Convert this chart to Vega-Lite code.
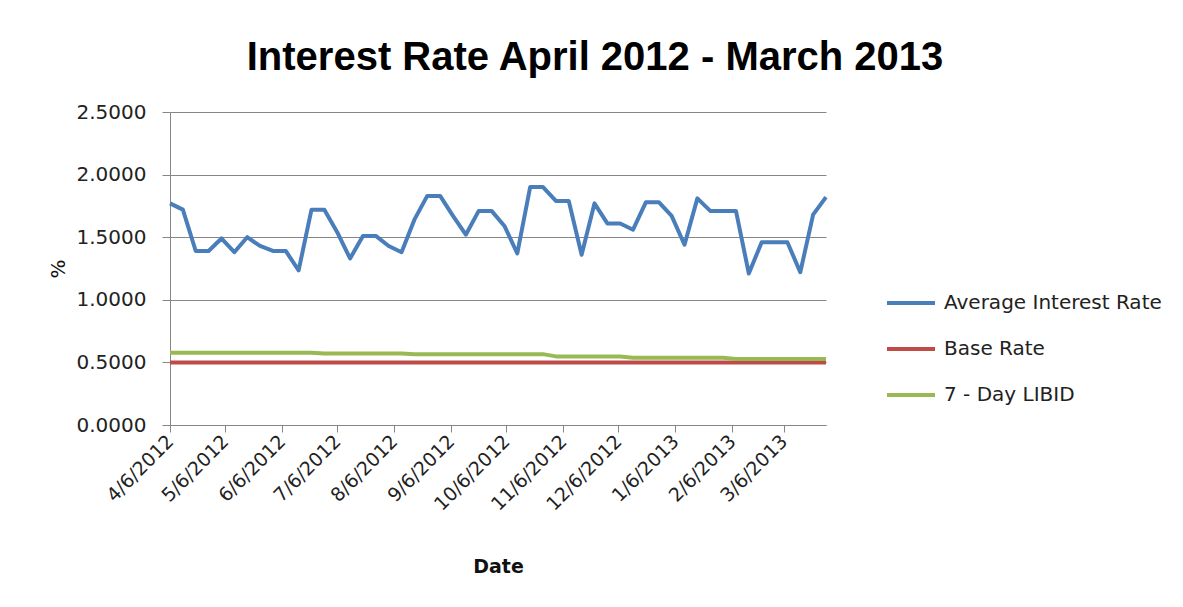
{
  "$schema": "https://vega.github.io/schema/vega-lite/v6.json",
  "width": 656,
  "height": 313,
  "autosize": "none",
  "padding": {"left": 170, "top": 112, "right": 357, "bottom": 182},
  "background": "white",
  "title": {
    "text": "Interest Rate April 2012 - March 2013",
    "font": "Liberation Sans Narrow, Liberation Sans",
    "fontSize": 40,
    "fontWeight": "bold",
    "color": "#000000",
    "anchor": "middle",
    "dx": 97,
    "offset": 24
  },
  "data": {
    "values": [
      {"date": "2012/04/06", "Average Interest Rate": 1.77, "Base Rate": 0.5, "7 - Day LIBID": 0.578},
      {"date": "2012/04/13", "Average Interest Rate": 1.72, "Base Rate": 0.5, "7 - Day LIBID": 0.578},
      {"date": "2012/04/20", "Average Interest Rate": 1.39, "Base Rate": 0.5, "7 - Day LIBID": 0.578},
      {"date": "2012/04/27", "Average Interest Rate": 1.39, "Base Rate": 0.5, "7 - Day LIBID": 0.578},
      {"date": "2012/05/04", "Average Interest Rate": 1.49, "Base Rate": 0.5, "7 - Day LIBID": 0.578},
      {"date": "2012/05/11", "Average Interest Rate": 1.38, "Base Rate": 0.5, "7 - Day LIBID": 0.578},
      {"date": "2012/05/18", "Average Interest Rate": 1.50, "Base Rate": 0.5, "7 - Day LIBID": 0.578},
      {"date": "2012/05/25", "Average Interest Rate": 1.43, "Base Rate": 0.5, "7 - Day LIBID": 0.578},
      {"date": "2012/06/01", "Average Interest Rate": 1.39, "Base Rate": 0.5, "7 - Day LIBID": 0.578},
      {"date": "2012/06/08", "Average Interest Rate": 1.39, "Base Rate": 0.5, "7 - Day LIBID": 0.578},
      {"date": "2012/06/15", "Average Interest Rate": 1.235, "Base Rate": 0.5, "7 - Day LIBID": 0.578},
      {"date": "2012/06/22", "Average Interest Rate": 1.72, "Base Rate": 0.5, "7 - Day LIBID": 0.578},
      {"date": "2012/06/29", "Average Interest Rate": 1.72, "Base Rate": 0.5, "7 - Day LIBID": 0.572},
      {"date": "2012/07/06", "Average Interest Rate": 1.54, "Base Rate": 0.5, "7 - Day LIBID": 0.572},
      {"date": "2012/07/13", "Average Interest Rate": 1.33, "Base Rate": 0.5, "7 - Day LIBID": 0.572},
      {"date": "2012/07/20", "Average Interest Rate": 1.51, "Base Rate": 0.5, "7 - Day LIBID": 0.572},
      {"date": "2012/07/27", "Average Interest Rate": 1.51, "Base Rate": 0.5, "7 - Day LIBID": 0.572},
      {"date": "2012/08/03", "Average Interest Rate": 1.43, "Base Rate": 0.5, "7 - Day LIBID": 0.572},
      {"date": "2012/08/10", "Average Interest Rate": 1.38, "Base Rate": 0.5, "7 - Day LIBID": 0.572},
      {"date": "2012/08/17", "Average Interest Rate": 1.64, "Base Rate": 0.5, "7 - Day LIBID": 0.566},
      {"date": "2012/08/24", "Average Interest Rate": 1.83, "Base Rate": 0.5, "7 - Day LIBID": 0.566},
      {"date": "2012/08/31", "Average Interest Rate": 1.83, "Base Rate": 0.5, "7 - Day LIBID": 0.566},
      {"date": "2012/09/07", "Average Interest Rate": 1.67, "Base Rate": 0.5, "7 - Day LIBID": 0.566},
      {"date": "2012/09/14", "Average Interest Rate": 1.52, "Base Rate": 0.5, "7 - Day LIBID": 0.566},
      {"date": "2012/09/21", "Average Interest Rate": 1.71, "Base Rate": 0.5, "7 - Day LIBID": 0.566},
      {"date": "2012/09/28", "Average Interest Rate": 1.71, "Base Rate": 0.5, "7 - Day LIBID": 0.566},
      {"date": "2012/10/05", "Average Interest Rate": 1.59, "Base Rate": 0.5, "7 - Day LIBID": 0.566},
      {"date": "2012/10/12", "Average Interest Rate": 1.37, "Base Rate": 0.5, "7 - Day LIBID": 0.566},
      {"date": "2012/10/19", "Average Interest Rate": 1.90, "Base Rate": 0.5, "7 - Day LIBID": 0.566},
      {"date": "2012/10/26", "Average Interest Rate": 1.90, "Base Rate": 0.5, "7 - Day LIBID": 0.566},
      {"date": "2012/11/02", "Average Interest Rate": 1.79, "Base Rate": 0.5, "7 - Day LIBID": 0.548},
      {"date": "2012/11/09", "Average Interest Rate": 1.79, "Base Rate": 0.5, "7 - Day LIBID": 0.548},
      {"date": "2012/11/16", "Average Interest Rate": 1.36, "Base Rate": 0.5, "7 - Day LIBID": 0.548},
      {"date": "2012/11/23", "Average Interest Rate": 1.77, "Base Rate": 0.5, "7 - Day LIBID": 0.548},
      {"date": "2012/11/30", "Average Interest Rate": 1.61, "Base Rate": 0.5, "7 - Day LIBID": 0.548},
      {"date": "2012/12/07", "Average Interest Rate": 1.61, "Base Rate": 0.5, "7 - Day LIBID": 0.548},
      {"date": "2012/12/14", "Average Interest Rate": 1.56, "Base Rate": 0.5, "7 - Day LIBID": 0.538},
      {"date": "2012/12/21", "Average Interest Rate": 1.78, "Base Rate": 0.5, "7 - Day LIBID": 0.538},
      {"date": "2012/12/28", "Average Interest Rate": 1.78, "Base Rate": 0.5, "7 - Day LIBID": 0.538},
      {"date": "2013/01/04", "Average Interest Rate": 1.67, "Base Rate": 0.5, "7 - Day LIBID": 0.538},
      {"date": "2013/01/11", "Average Interest Rate": 1.44, "Base Rate": 0.5, "7 - Day LIBID": 0.538},
      {"date": "2013/01/18", "Average Interest Rate": 1.81, "Base Rate": 0.5, "7 - Day LIBID": 0.538},
      {"date": "2013/01/25", "Average Interest Rate": 1.71, "Base Rate": 0.5, "7 - Day LIBID": 0.538},
      {"date": "2013/02/01", "Average Interest Rate": 1.71, "Base Rate": 0.5, "7 - Day LIBID": 0.538},
      {"date": "2013/02/08", "Average Interest Rate": 1.71, "Base Rate": 0.5, "7 - Day LIBID": 0.528},
      {"date": "2013/02/15", "Average Interest Rate": 1.21, "Base Rate": 0.5, "7 - Day LIBID": 0.528},
      {"date": "2013/02/22", "Average Interest Rate": 1.46, "Base Rate": 0.5, "7 - Day LIBID": 0.528},
      {"date": "2013/03/01", "Average Interest Rate": 1.46, "Base Rate": 0.5, "7 - Day LIBID": 0.528},
      {"date": "2013/03/08", "Average Interest Rate": 1.46, "Base Rate": 0.5, "7 - Day LIBID": 0.528},
      {"date": "2013/03/15", "Average Interest Rate": 1.22, "Base Rate": 0.5, "7 - Day LIBID": 0.528},
      {"date": "2013/03/22", "Average Interest Rate": 1.68, "Base Rate": 0.5, "7 - Day LIBID": 0.528},
      {"date": "2013/03/29", "Average Interest Rate": 1.82, "Base Rate": 0.5, "7 - Day LIBID": 0.528}
    ]
  },
  "transform": [
    {"fold": ["Average Interest Rate", "Base Rate", "7 - Day LIBID"], "as": ["series", "value"]}
  ],
  "mark": {"type": "line", "strokeWidth": 4, "strokeJoin": "round", "strokeCap": "butt"},
  "encoding": {
    "x": {
      "field": "date",
      "type": "temporal",
      "scale": {"domain": [{"year": 2012, "month": 4, "date": 6}, {"year": 2013, "month": 3, "date": 29}], "nice": false},
      "axis": {
        "title": "Date",
        "values": [
          {"year": 2012, "month": 4, "date": 6},
          {"year": 2012, "month": 5, "date": 6},
          {"year": 2012, "month": 6, "date": 6},
          {"year": 2012, "month": 7, "date": 6},
          {"year": 2012, "month": 8, "date": 6},
          {"year": 2012, "month": 9, "date": 6},
          {"year": 2012, "month": 10, "date": 6},
          {"year": 2012, "month": 11, "date": 6},
          {"year": 2012, "month": 12, "date": 6},
          {"year": 2013, "month": 1, "date": 6},
          {"year": 2013, "month": 2, "date": 6},
          {"year": 2013, "month": 3, "date": 6}
        ],
        "format": "%-m/%-d/%Y",
        "labelAngle": -45,
        "labelAlign": "right",
        "labelBaseline": "middle",
        "labelFont": "DejaVu Sans",
        "labelFontSize": 19,
        "labelColor": "#222222",
        "labelPadding": 6,
        "labelOverlap": false,
        "labelFlush": false,
        "tickSize": 7,
        "tickColor": "#868686",
        "domainColor": "#868686",
        "grid": false,
        "titleFont": "DejaVu Sans",
        "titleFontSize": 19,
        "titleFontWeight": "bold",
        "titleColor": "#111111",
        "titlePadding": 44
      }
    },
    "y": {
      "field": "value",
      "type": "quantitative",
      "scale": {"domain": [0, 2.5], "nice": false, "zero": true},
      "axis": {
        "title": "%",
        "values": [0, 0.5, 1, 1.5, 2, 2.5],
        "format": ".4f",
        "labelFont": "DejaVu Sans",
        "labelFontSize": 20,
        "labelColor": "#222222",
        "labelPadding": 16,
        "tickSize": 8,
        "tickColor": "#868686",
        "domainColor": "#868686",
        "gridColor": "#868686",
        "gridWidth": 1,
        "titleFont": "DejaVu Sans",
        "titleFontSize": 20,
        "titleFontWeight": "normal",
        "titleColor": "#111111",
        "titlePadding": 8
      }
    },
    "color": {
      "field": "series",
      "type": "nominal",
      "scale": {
        "domain": ["Average Interest Rate", "Base Rate", "7 - Day LIBID"],
        "range": ["#4A7EBB", "#BE4B48", "#98B954"]
      },
      "legend": {
        "title": null,
        "orient": "none",
        "legendX": 715,
        "legendY": 165,
        "padding": 0,
        "symbolType": "stroke",
        "symbolStrokeWidth": 4,
        "symbolSize": 2304,
        "labelFont": "DejaVu Sans",
        "labelFontSize": 20,
        "labelLimit": 400,
        "labelColor": "#222222",
        "labelOffset": 7,
        "rowPadding": 10
      }
    }
  },
  "config": {"view": {"stroke": null}}
}
